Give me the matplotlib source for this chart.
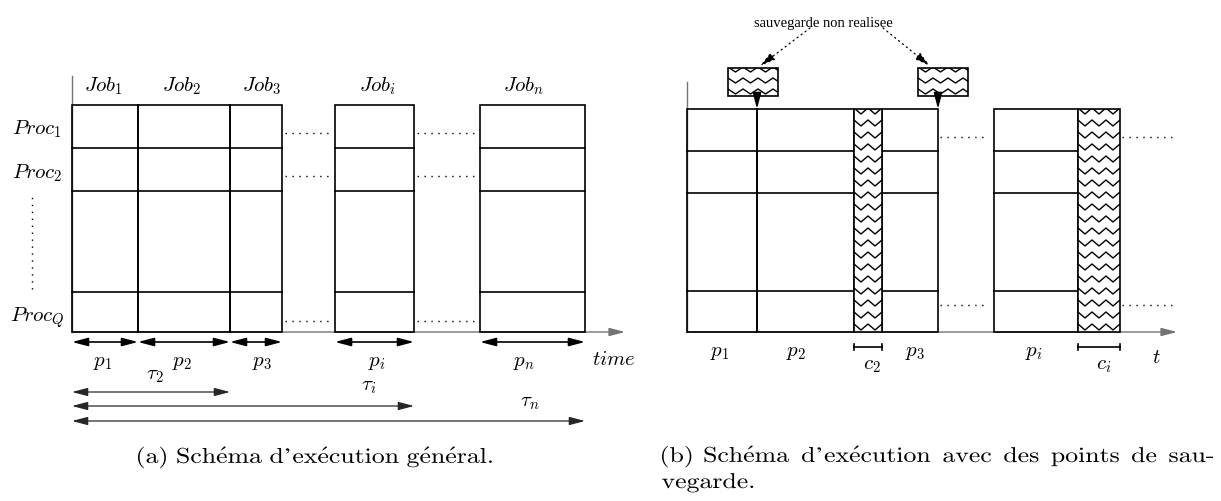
import numpy as np
import matplotlib.pyplot as plt
from matplotlib.patches import Rectangle, PathPatch
from matplotlib.textpath import TextPath
from matplotlib.transforms import Affine2D
from matplotlib.font_manager import FontProperties

plt.rcParams['mathtext.fontset'] = 'cm'

# --- schedule (a): one column per job, processors stacked upwards ---
jobs_a = ['1', '2', '3', 'i', 'n']
job_start_a = [0, 66, 158, 263, 408]
job_end_a = [66, 158, 210, 342, 513]
proc_edges_a = [0, 40, 141, 184, 227]
procs_a = ['1', '2', 'Q']
tau_a = ['2', 'i', 'n']
tau_end_a = [158, 342, 513]

# --- schedule (b): work segments with checkpoint segments in between ---
work_b = ['1', '2', '3', 'i']
work_start_b = [0, 70, 195, 307]
work_end_b = [70, 167, 251, 391]
ckpt_b = ['2', 'i']
ckpt_start_b = [167, 391]
ckpt_end_b = [195, 433]
proc_edges_b = [0, 41, 139, 181, 223]
skipped_b = [70, 251]   # checkpoints that were not taken

W, H = 1221, 502
LW = 1.2
math_fs = 15
CAP_SIZE = 21.5     # caption em size, in pixels
CAP_STRETCH = 1.2   # captions are set wide
CMR = FontProperties(family='cmr10')

fig = plt.figure(figsize=(W / 100, H / 100), dpi=100)


def panel(x0, y0):
    # axes over the whole figure, origin at the start of the time axis
    ax = fig.add_axes([0, 0, 1, 1])
    ax.set_xlim(-x0, W - x0)
    ax.set_ylim(-(H - y0), y0)
    ax.set_facecolor('none')
    ax.axis('off')
    return ax


def arrow(ax, x0, y0, x1, y1, style='<|-|>', lw=1.0, color='k', ls='-'):
    ax.annotate('', xy=(x1, y1), xytext=(x0, y0),
                arrowprops=dict(arrowstyle=style + ',head_length=0.95,head_width=0.25',
                                mutation_scale=10, lw=lw, color=color,
                                shrinkA=0, shrinkB=0, linestyle=ls))


def column(ax, x0, x1, edges):
    ax.add_patch(Rectangle((x0, edges[0]), x1 - x0, edges[-1] - edges[0],
                           fill=False, ec='k', lw=LW, zorder=3))
    for e in edges[1:-1]:
        ax.plot([x0, x1], [e, e], color='k', lw=LW, zorder=3)


def zigzag(ax, x0, x1, y0, y1, period=14, amp=6, gap=12):
    box = Rectangle((x0, y0), x1 - x0, y1 - y0, fc='white', ec='k', lw=LW, zorder=3)
    ax.add_patch(box)
    xs = np.arange(x0, x1 + period, period / 2)
    for base in np.arange(y1 + 1, y0 - amp, -gap):
        ys = base - amp * (np.arange(len(xs)) % 2)
        ln, = ax.plot(xs, ys, color='k', lw=1.0, zorder=4)
        ln.set_clip_path(box)


def dots(ax, x0, x1, y0, y1):
    ax.plot([x0, x1], [y0, y1], color='k', lw=1.0, ls=(0, (1, 4)))


def cm_path(s):
    # accented words go through mathtext, plain ones straight through cmr10
    if '\\' in s:
        return TextPath((0, 0), r'$\mathrm{%s}$' % s, size=CAP_SIZE)
    return TextPath((0, 0), s, size=CAP_SIZE, prop=CMR)


def put_path(ax, tp, x, y):
    path = Affine2D().scale(CAP_STRETCH, 1).translate(x, y).transform_path(tp)
    ax.add_patch(PathPatch(path, fc='k', ec='none', lw=0))


def caption(ax, x, y, s):
    tp = cm_path(s)
    put_path(ax, tp, x - tp.get_extents().x0 * CAP_STRETCH, y)


def justify(ax, words, x_left, x_right, y):
    paths = [cm_path(w) for w in words]
    ext = [p.get_extents() for p in paths]
    widths = [e.width * CAP_STRETCH for e in ext]
    gap = (x_right - x_left - sum(widths)) / (len(words) - 1)
    x = x_left
    for p, e, wd in zip(paths, ext, widths):
        put_path(ax, p, x - e.x0 * CAP_STRETCH, y)
        x += wd + gap


# ================= (a) =================
ax = panel(72, 333)
ax.plot([0, 0], [0, 256], color='0.45', lw=1.0)
arrow(ax, 0, 0, 553, 0, style='-|>', color='0.45')
for s, e in zip(job_start_a, job_end_a):
    column(ax, s, e, proc_edges_a)

for x0, x1 in [(210, 263), (342, 408)]:
    for y in [199, 156, 11]:
        dots(ax, x0 + 3, x1 - 3, y, y)
dots(ax, -40, -40, 43, 140)

job_lx = [31, 110, 190, 305, 452]
for name, x in zip(jobs_a, job_lx):
    ax.text(x, 247, r'$Job_{%s}$' % name, ha='center', va='center', fontsize=math_fs)
    ax.text(x, -29, r'$p_{%s}$' % name, ha='center', va='center', fontsize=math_fs)
for name, y in zip(procs_a, [204, 160, 15]):
    ax.text(-35, y, r'$Proc_{%s}$' % name, ha='center', va='center', fontsize=math_fs)

for s, e in zip(job_start_a, job_end_a):
    arrow(ax, s, -10, e, -10, lw=1.2)
for e, y in zip(tau_end_a, [-60, -74, -89]):
    arrow(ax, 0, y, e, y, color='0.15', lw=0.9)
for name, (x, y) in zip(tau_a, [(83, -42), (297, -53), (458, -69)]):
    ax.text(x, y, r'$\tau_{%s}$' % name, ha='center', va='center', fontsize=math_fs)
ax.text(542, -26, r'$time$', ha='center', va='center', fontsize=math_fs)

caption(ax, 138 - 72, -131,
        r'(a)\ Sch\acute{e}ma\ d’ex\acute{e}cution\ g\acute{e}n\acute{e}ral.')

# ================= (b) =================
bx = panel(687, 333)
bx.plot([0, 0], [0, 250], color='0.45', lw=1.0)
arrow(bx, 0, 0, 490, 0, style='-|>', color='0.45')
for s, e in zip(work_start_b, work_end_b):
    column(bx, s, e, proc_edges_b)
for s, e in zip(ckpt_start_b, ckpt_end_b):
    zigzag(bx, s, e, proc_edges_b[0], proc_edges_b[-1])

for x0, x1 in [(253, 301), (435, 490)]:
    for y in [195, 27]:
        dots(bx, x0, x1, y, y)

# checkpoints that were skipped, shown above the schedule
top = proc_edges_b[-1]
for x, left in zip(skipped_b, [41, 231]):
    zigzag(bx, left, left + 50, top + 13, top + 41, period=15, amp=5, gap=11)
    arrow(bx, x, top + 13, x, top, style='-|>', lw=1.2)
bx.text(136, 310, 'sauvegarde non realisee', ha='center', va='center',
        fontsize=10.5, family='Liberation Serif')
arrow(bx, 123, 304, 73, 266, style='-|>', lw=0.9, ls=(0, (1, 3)))
arrow(bx, 196, 304, 243, 266, style='-|>', lw=0.9, ls=(0, (1, 3)))

for name, x in zip(work_b, [33, 109, 228, 347]):
    bx.text(x, -19, r'$p_{%s}$' % name, ha='center', va='center', fontsize=math_fs)
for name, s, e, x in zip(ckpt_b, ckpt_start_b, ckpt_end_b, [185, 417]):
    bx.plot([s, e], [-15, -15], color='k', lw=1.2)
    bx.plot([s, s], [-18, -12], color='k', lw=1.2)
    bx.plot([e, e], [-18, -12], color='k', lw=1.2)
    bx.text(x, -32, r'$c_{%s}$' % name, ha='center', va='center', fontsize=math_fs)
bx.text(469, -24, r'$t$', ha='center', va='center', fontsize=math_fs)

cap_words = ['(b)', r'Sch\acute{e}ma', r'd’ex\acute{e}cution', 'avec',
             'des', 'points', 'de', 'sau-']
justify(bx, cap_words, 662 - 687, 1213 - 687, -130)
caption(bx, 662 - 687, -156, 'vegarde.')

fig.savefig('out.png', dpi=100)
